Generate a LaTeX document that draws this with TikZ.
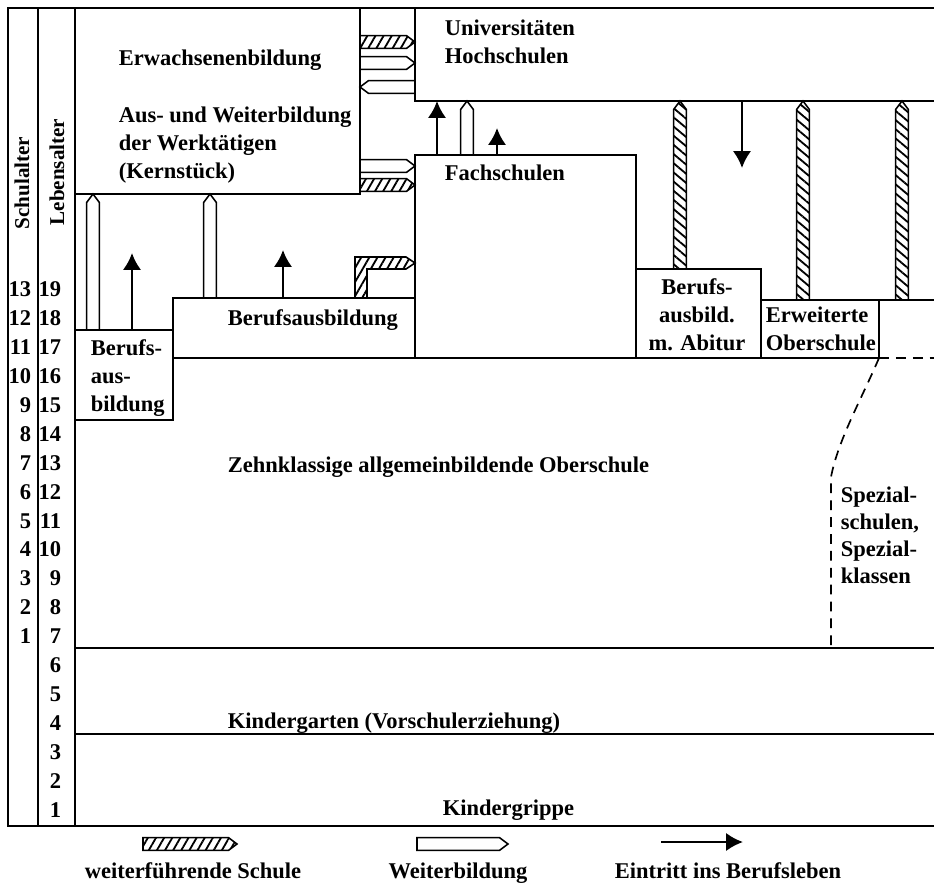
\documentclass[tikz,border=0pt]{standalone}
\usepackage{fontspec}
\setmainfont{Liberation Serif}
\usetikzlibrary{arrows.meta, calc, patterns.meta}

\tikzset{
  % 铅笔形宽箭头
  band/.style={to path={
      ($(\tikztostart)!\bw!90:(\tikztotarget)$)
      -- ($(\tikztotarget)!\bh!(\tikztostart)!\bw!-90:(\tikztostart)$)
      -- (\tikztotarget)
      -- ($(\tikztotarget)!\bh!(\tikztostart)!\bw!90:(\tikztostart)$)
      -- ($(\tikztostart)!\bw!-90:(\tikztotarget)$) -- cycle}},
  hatch/.style={draw, line width=1.1pt, pattern={Lines[angle=#1, distance=5pt, line width=1.3pt]}},
  hatch/.default=60,
  schule/.style={band, hatch=#1},
  schule/.default=60,
  weiter/.style={band, draw, fill=white, line width=1.1pt},
  beruf/.style={-{Latex[length=12pt, width=13pt]}, line width=1.8pt},
  txt/.style={anchor=base west, align=left},
  num/.style={anchor=base east},
}

\begin{document}
\begin{tikzpicture}[x=0.025cm, y=-0.025cm, line width=1.2pt,
    every node/.style={font=\fontsize{16}{19.8}\selectfont\bfseries, inner sep=0pt}]
  \def\bw{4.5pt}
  \def\bh{6pt}
  \useasboundingbox (0,0) rectangle (934,883);

  % 外框和两列年龄
  \draw (934,8) -- (8,8) -- (8,826) -- (934,826);
  \draw (38,8) -- (38,826);
  \draw (75,8) -- (75,826);
  \node[rotate=90, font=\fontsize{15}{18}\selectfont\bfseries] (sch) at (22,183) {Schulalter};
  \node[rotate=90, font=\fontsize{15}{18}\selectfont\bfseries] (leb) at (57,172) {Lebensalter};
  \foreach \n in {1,...,19}
    \node[num] (la\n) at (62,{817-(\n-1)*28.9}) {\n};
  \foreach \k in {1,...,13}
    \node[num] (sa\k) at (32,{817-(\k+5)*28.9}) {\k};

  % 各级学校的边界
  \draw (360,8) -- (360,194) -- (75,194);
  \draw (415,8) -- (415,101) -- (934,101);
  \draw (415,358) -- (415,155) -- (636,155) -- (636,358);
  \draw (636,269) -- (761,269) -- (761,358);
  \draw (761,300) -- (934,300);
  \draw (879,300) -- (879,358);
  \draw (75,330) -- (173,330);
  \draw (75,420) -- (173,420) -- (173,298) -- (415,298);
  \draw (173,358) -- (879,358);
  \draw[dash pattern=on 7pt off 5pt] (879,358) -- (934,358);
  \draw[dash pattern=on 7pt off 5pt] (879,358) .. controls (862,398) and (838,440) .. (831,477) -- (831,648);
  \draw (75,648) -- (934,648);
  \draw (75,734) -- (934,734);

  % 文字 (多行时坐标为最后一行的基线)
  \node[txt] (erw) at (118,65) {Erwachsenenbildung};
  \node[txt] (aus) at (118,178) {Aus- und Weiterbildung\\der Werktätigen\\(Kernstück)};
  \node[txt] (uni) at (444,63) {Universitäten\\Hochschulen};
  \node[txt] (fach) at (444,180) {Fachschulen};
  \node[txt] (bab) at (227,325) {Berufsausbildung};
  \node[txt] (bkl) at (90,411) {Berufs-\\aus-\\bildung};
  \node[anchor=base, align=center] (abi) at (697,350) {Berufs-\\ausbild.\\m. Abitur};
  \node[txt] (eos) at (765,350) {Erweiterte\\Oberschule};
  \node[txt] (pos) at (227,472) {Zehnklassige allgemeinbildende Oberschule};
  \node[txt, font=\fontsize{16}{19.2}\selectfont\bfseries] (spez) at (840,583) {Spezial-\\schulen,\\Spezial-\\klassen};
  \node[txt] (kig) at (227,728) {Kindergarten (Vorschulerziehung)};
  \node[txt] (krip) at (442,815) {Kindergrippe};

  % 箭头: 继续深造 (斜线)
  \foreach \n/\xa/\ya/\xb/\yb/\ang in {1/360/42/415/42/60, 2/360/185/415/185/60,
      3/680/269/680/101/-40, 4/803/300/803/101/-40, 5/902/300/902/101/-40} {
    \coordinate (h\n s) at (\xa,\ya);
    \coordinate (h\n e) at (\xb,\yb);
    \draw[schule=\ang] (h\n s) to (h\n e);
  }
  \coordinate (h0s) at (361,298);
  \coordinate (h0e) at (415,263);
  \draw[hatch] ($(h0s)+(-6,0)$) |- ($(h0e)+(-9,-6)$) -- (h0e) -- ($(h0e)+(-9,6)$) -| ($(h0s)+(6,0)$) -- cycle;

  % 箭头: 进修 (空心)
  \foreach \n/\xa/\ya/\xb/\yb in {1/93/330/93/194, 2/210/298/210/194, 3/360/63/415/63,
      4/415/87/360/87, 5/360/166/415/166, 6/467/155/467/101} {
    \coordinate (w\n s) at (\xa,\ya);
    \coordinate (w\n e) at (\xb,\yb);
    \draw[weiter] (w\n s) to (w\n e);
  }

  % 箭头: 就业 (实心)
  \foreach \n/\xa/\ya/\xb/\yb in {1/132/330/132/253, 2/283/298/283/250, 3/437/155/437/101,
      4/497/155/497/128, 5/742/101/742/168} {
    \coordinate (b\n s) at (\xa,\ya);
    \coordinate (b\n e) at (\xb,\yb);
    \draw[beruf] (b\n s) -- (b\n e);
  }

  % 图例
  \coordinate (lh1) at (143,844);
  \coordinate (lh2) at (237,844);
  \coordinate (lw1) at (417,844);
  \coordinate (lw2) at (508,844);
  \coordinate (lb1) at (661,842);
  \coordinate (lb2) at (743,842);
  \draw[schule] (lh1) to (lh2);
  \draw[weiter] (lw1) to (lw2);
  \draw[beruf] (lb1) -- (lb2);
  \node[anchor=base] (leg1) at (193,878) {weiterführende Schule};
  \node[anchor=base] (leg2) at (458,878) {Weiterbildung};
  \node[anchor=base] (leg3) at (728,878) {Eintritt ins Berufsleben};
\end{tikzpicture}
\end{document}
